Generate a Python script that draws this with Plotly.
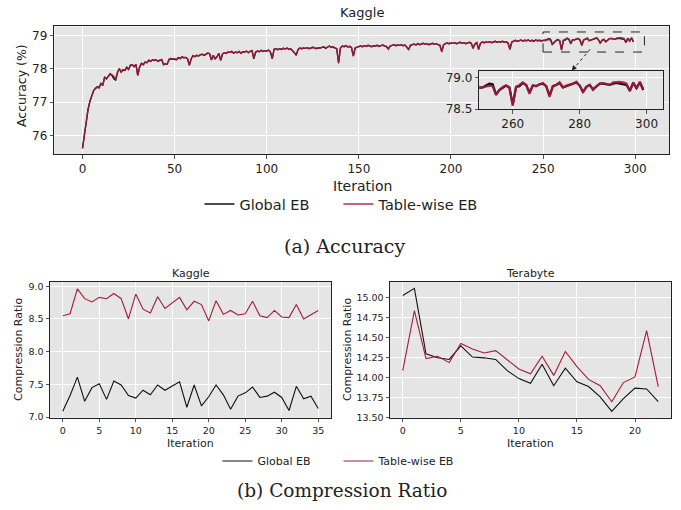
import plotly.graph_objects as go

# ---------------- data ----------------
acc_iter = list(range(300))
acc_tablewise = [
    75.62, 76.05, 76.50, 76.78, 77.02, 77.20, 77.34, 77.40, 77.45, 77.42,
    77.56, 77.50, 77.76, 77.70, 77.78, 77.86, 77.82, 77.78, 77.68, 77.90,
    78.01, 77.90, 77.98, 77.96, 78.05, 77.98, 78.11, 78.12, 78.06, 78.14,
    77.80, 78.05, 78.16, 78.12, 78.20, 78.18, 78.26, 78.22, 78.27, 78.25,
    78.27, 78.22, 78.26, 78.28, 78.13, 78.15, 78.14, 78.28, 78.31, 78.29,
    78.30, 78.27, 78.33, 78.30, 78.36, 78.33, 78.34, 78.30, 78.11, 78.30,
    78.39, 78.36, 78.40, 78.38, 78.42, 78.44, 78.40, 78.44, 78.47, 78.45,
    78.27, 78.40, 78.30, 78.36, 78.46, 78.25, 78.44, 78.48, 78.46, 78.50,
    78.49, 78.52, 78.47, 78.50, 78.48, 78.52, 78.46, 78.51, 78.50, 78.53,
    78.48, 78.52, 78.54, 78.31, 78.50, 78.53, 78.51, 78.55, 78.52, 78.54,
    78.53, 78.56, 78.50, 78.31, 78.58, 78.60, 78.57, 78.60, 78.58, 78.61,
    78.59, 78.62, 78.58, 78.60, 78.55, 78.50, 78.43, 78.58, 78.62, 78.60,
    78.62, 78.61, 78.63, 78.60, 78.62, 78.64, 78.62, 78.61, 78.63, 78.62,
    78.64, 78.66, 78.62, 78.65, 78.68, 78.64, 78.66, 78.62, 78.60, 78.16,
    78.62, 78.68, 78.66, 78.69, 78.65, 78.67, 78.64, 78.37, 78.62, 78.65,
    78.67, 78.68, 78.66, 78.69, 78.67, 78.70, 78.68, 78.66, 78.69, 78.68,
    78.70, 78.67, 78.69, 78.71, 78.68, 78.66, 78.58, 78.68, 78.70, 78.72,
    78.69, 78.71, 78.70, 78.72, 78.69, 78.71, 78.66, 78.56, 78.70, 78.72,
    78.74, 78.71, 78.75, 78.72, 78.74, 78.76, 78.73, 78.75, 78.72, 78.74,
    78.76, 78.73, 78.75, 78.72, 78.70, 78.50, 78.72, 78.75, 78.77, 78.75,
    78.77, 78.76, 78.78, 78.75, 78.77, 78.79, 78.76, 78.78, 78.75, 78.77,
    78.79, 78.76, 78.60, 78.74, 78.78, 78.57, 78.76, 78.80, 78.78, 78.80,
    78.79, 78.81, 78.78, 78.80, 78.82, 78.79, 78.81, 78.80, 78.82, 78.79,
    78.81, 78.76, 78.57, 78.80, 78.83, 78.85, 78.82, 78.84, 78.86, 78.83,
    78.85, 78.84, 78.86, 78.83, 78.85, 78.82, 78.86, 78.84, 78.85, 78.83,
    78.85, 78.84, 78.86, 78.87, 78.86, 78.72, 78.80, 78.85, 78.87, 78.84,
    78.55, 78.85, 78.88, 78.92, 78.88, 78.74, 78.87, 78.86, 78.89, 78.91,
    78.86, 78.69, 78.86, 78.88, 78.92, 78.84, 78.87, 78.88, 78.90, 78.93,
    78.87, 78.76, 78.85, 78.88, 78.80, 78.86, 78.90, 78.91, 78.89, 78.88,
    78.92, 78.93, 78.93, 78.92, 78.90, 78.78, 78.92, 78.83, 78.93, 78.82,
]
acc_global = [
    75.62, 76.05, 76.50, 76.78, 77.02, 77.20, 77.34, 77.42, 77.46, 77.44,
    77.56, 77.50, 77.74, 77.70, 77.78, 77.84, 77.80, 77.70, 77.66, 77.88,
    78.00, 77.90, 77.96, 77.95, 78.04, 77.98, 78.10, 78.12, 78.06, 78.13,
    77.80, 78.05, 78.16, 78.12, 78.20, 78.18, 78.25, 78.22, 78.27, 78.25,
    78.27, 78.22, 78.26, 78.27, 78.12, 78.15, 78.14, 78.28, 78.30, 78.29,
    78.30, 78.27, 78.33, 78.30, 78.35, 78.33, 78.34, 78.30, 78.10, 78.30,
    78.39, 78.36, 78.40, 78.38, 78.42, 78.43, 78.40, 78.44, 78.47, 78.45,
    78.26, 78.40, 78.30, 78.36, 78.46, 78.25, 78.44, 78.48, 78.46, 78.50,
    78.49, 78.52, 78.47, 78.50, 78.48, 78.52, 78.46, 78.51, 78.50, 78.53,
    78.48, 78.52, 78.54, 78.30, 78.50, 78.53, 78.51, 78.55, 78.52, 78.54,
    78.53, 78.56, 78.50, 78.30, 78.58, 78.60, 78.57, 78.60, 78.58, 78.61,
    78.59, 78.62, 78.58, 78.60, 78.55, 78.48, 78.40, 78.57, 78.62, 78.60,
    78.62, 78.61, 78.63, 78.60, 78.62, 78.64, 78.62, 78.60, 78.63, 78.62,
    78.64, 78.65, 78.61, 78.65, 78.68, 78.64, 78.66, 78.62, 78.60, 78.18,
    78.62, 78.68, 78.66, 78.69, 78.65, 78.67, 78.63, 78.39, 78.62, 78.65,
    78.67, 78.68, 78.66, 78.69, 78.67, 78.70, 78.68, 78.66, 78.69, 78.68,
    78.70, 78.67, 78.69, 78.71, 78.68, 78.66, 78.60, 78.68, 78.70, 78.72,
    78.69, 78.71, 78.70, 78.72, 78.69, 78.71, 78.64, 78.58, 78.70, 78.72,
    78.74, 78.71, 78.75, 78.72, 78.74, 78.76, 78.73, 78.75, 78.72, 78.74,
    78.76, 78.73, 78.75, 78.72, 78.70, 78.52, 78.72, 78.75, 78.77, 78.75,
    78.77, 78.76, 78.78, 78.75, 78.77, 78.79, 78.76, 78.78, 78.75, 78.77,
    78.79, 78.76, 78.62, 78.74, 78.78, 78.59, 78.76, 78.80, 78.78, 78.80,
    78.79, 78.81, 78.78, 78.80, 78.82, 78.79, 78.81, 78.80, 78.82, 78.79,
    78.81, 78.77, 78.59, 78.80, 78.83, 78.85, 78.82, 78.84, 78.86, 78.83,
    78.85, 78.84, 78.86, 78.83, 78.85, 78.82, 78.86, 78.84, 78.85, 78.83,
    78.84, 78.84, 78.87, 78.90, 78.89, 78.73, 78.80, 78.84, 78.87, 78.84,
    78.57, 78.85, 78.86, 78.91, 78.88, 78.76, 78.87, 78.86, 78.89, 78.90,
    78.86, 78.71, 78.86, 78.88, 78.91, 78.84, 78.86, 78.88, 78.89, 78.92,
    78.87, 78.77, 78.85, 78.88, 78.81, 78.86, 78.90, 78.90, 78.89, 78.88,
    78.90, 78.91, 78.90, 78.89, 78.88, 78.79, 78.91, 78.83, 78.92, 78.80,
]

kaggle_iter = list(range(36))
kaggle_global = [
    7.09, 7.33, 7.61, 7.24, 7.45, 7.51, 7.27, 7.55, 7.49, 7.33,
    7.29, 7.41, 7.34, 7.49, 7.41, 7.47, 7.54, 7.15, 7.49, 7.17,
    7.31, 7.49, 7.34, 7.12, 7.32, 7.37, 7.46, 7.30, 7.32, 7.38,
    7.30, 7.10, 7.47, 7.28, 7.32, 7.13,
]
kaggle_tablewise = [
    8.55, 8.58, 8.96, 8.81, 8.76, 8.83, 8.81, 8.89, 8.81, 8.50,
    8.88, 8.65, 8.59, 8.84, 8.66, 8.75, 8.83, 8.64, 8.77, 8.72,
    8.47, 8.78, 8.57, 8.63, 8.56, 8.58, 8.77, 8.55, 8.52, 8.63,
    8.53, 8.52, 8.72, 8.50, 8.57, 8.63,
]

tera_iter = list(range(23))
tera_global = [
    15.03, 15.12, 14.30, 14.25, 14.23, 14.40, 14.26, 14.25, 14.23, 14.09,
    13.99, 13.93, 14.17, 13.90, 14.12, 13.95, 13.89, 13.76, 13.58, 13.74,
    13.87, 13.86, 13.70,
]
tera_tablewise = [
    14.09, 14.84, 14.24, 14.27, 14.19, 14.43, 14.36, 14.31, 14.34, 14.23,
    14.11, 14.05, 14.27, 14.03, 14.33, 14.14, 13.98, 13.90, 13.70, 13.94,
    14.01, 14.59, 13.89,
]

series_names = ["Global EB", "Table-wise EB"]
acc_xticks = [0, 50, 100, 150, 200, 250, 300]
acc_yticks = [76, 77, 78, 79]
inset_xticks = [260, 280, 300]
inset_yticks = [78.5, 79.0]
kaggle_xticks = [0, 5, 10, 15, 20, 25, 30, 35]
kaggle_yticks = [7.0, 7.5, 8.0, 8.5, 9.0]
tera_xticks = [0, 5, 10, 15, 20]
tera_yticks = [13.50, 13.75, 14.00, 14.25, 14.50, 14.75, 15.00]
inset_xlim = [250, 305]
inset_ylim = [78.5, 79.1]

# ---------------- style ----------------
BLACK = "#111111"
RED = "#A3193F"
FONT = "DejaVu Sans"
SERIF = "DejaVu Serif"
W, H = 681, 510

fig = go.Figure()

# main accuracy
fig.add_trace(go.Scatter(x=acc_iter, y=acc_global, mode="lines", name=series_names[0],
                         line=dict(color=BLACK, width=1.4), xaxis="x", yaxis="y", legend="legend"))
fig.add_trace(go.Scatter(x=acc_iter, y=acc_tablewise, mode="lines", name=series_names[1],
                         line=dict(color=RED, width=1.4), opacity=0.9, xaxis="x", yaxis="y", legend="legend"))
# inset
fig.add_trace(go.Scatter(x=acc_iter, y=acc_global, mode="lines", showlegend=False,
                         line=dict(color=BLACK, width=2.2), xaxis="x2", yaxis="y2"))
fig.add_trace(go.Scatter(x=acc_iter, y=acc_tablewise, mode="lines", showlegend=False,
                         line=dict(color=RED, width=2.2), opacity=0.9, xaxis="x2", yaxis="y2"))
# kaggle compression
fig.add_trace(go.Scatter(x=kaggle_iter, y=kaggle_global, mode="lines", name=series_names[0],
                         line=dict(color=BLACK, width=1.1), xaxis="x3", yaxis="y3", legend="legend2"))
fig.add_trace(go.Scatter(x=kaggle_iter, y=kaggle_tablewise, mode="lines", name=series_names[1],
                         line=dict(color=RED, width=1.1), xaxis="x3", yaxis="y3", legend="legend2"))
# terabyte compression
fig.add_trace(go.Scatter(x=tera_iter, y=tera_global, mode="lines", showlegend=False,
                         line=dict(color=BLACK, width=1.1), xaxis="x4", yaxis="y4"))
fig.add_trace(go.Scatter(x=tera_iter, y=tera_tablewise, mode="lines", showlegend=False,
                         line=dict(color=RED, width=1.1), xaxis="x4", yaxis="y4"))


def ax(domain, rng, ticks, size, fmt=None, anchor=None):
    d = dict(domain=domain, range=rng, tickvals=ticks, showgrid=True, gridcolor="white",
             gridwidth=1, zeroline=False, showline=True, mirror=True, linecolor="#222222",
             linewidth=1, ticks="outside", ticklen=3.5, tickwidth=1, tickcolor="#555555",
             automargin=False,
             tickfont=dict(family=FONT, size=size, color="#222222"))
    if fmt:
        d["tickformat"] = fmt
    if anchor:
        d["anchor"] = anchor
    return d


fig.update_layout(
    width=W, height=H,
    margin=dict(l=0, r=0, t=0, b=0, autoexpand=False),
    paper_bgcolor="white", plot_bgcolor="#E5E5E5",
    font=dict(family=FONT, color="#222222"),
    xaxis=ax([54.3 / W, 669.3 / W], [-15.3, 318.5], acc_xticks, 12, anchor="y"),
    yaxis=ax([1 - 154 / H, 1 - 26.3 / H], [75.45, 79.27], acc_yticks, 12, anchor="x"),
    xaxis2=ax([479.3 / W, 663.3 / W], inset_xlim, inset_xticks, 12, anchor="y2"),
    yaxis2=ax([1 - 109 / H, 1 - 71 / H], inset_ylim, inset_yticks, 12, fmt=".1f", anchor="x2"),
    xaxis3=ax([50 / W, 331 / W], [-1.75, 36.75], kaggle_xticks, 9.5, anchor="y3"),
    yaxis3=ax([1 - 417.7 / H, 1 - 282 / H], [6.99, 9.065], kaggle_yticks, 9.5, fmt=".1f", anchor="x3"),
    xaxis4=ax([390 / W, 671 / W], [-1.1, 23.1], tera_xticks, 9.5, anchor="y4"),
    yaxis4=ax([1 - 417.7 / H, 1 - 282 / H], [13.5, 15.2], tera_yticks, 9.5, fmt=".2f", anchor="x4"),
    legend=dict(orientation="h", x=0.497, xanchor="center", y=1 - 204 / H, yanchor="middle",
                font=dict(family=FONT, size=14.5, color="#222222"), bgcolor="rgba(0,0,0,0)",
                itemwidth=30, entrywidth=94),
    legend2=dict(orientation="h", x=0.497, xanchor="center", y=1 - 461 / H, yanchor="middle",
                 font=dict(family=FONT, size=11, color="#222222"), bgcolor="rgba(0,0,0,0)",
                 itemwidth=30, entrywidth=76),
    showlegend=True,
)

# zoom rectangle and connector
fig.add_shape(type="rect", xref="x", yref="y", x0=inset_xlim[0], x1=inset_xlim[1],
              y0=inset_ylim[0], y1=inset_ylim[1], line=dict(color="#222222", width=1, dash="dash"))
fig.add_shape(type="line", xref="x", yref="y", x0=275.5, y0=78.58, x1=266.5, y1=78.0,
              line=dict(color="#222222", width=1, dash="dot"))
fig.add_annotation(xref="x", yref="y", axref="x", ayref="y", x=265.5, y=77.95,
                   ax=267.5, ay=78.07, text="", showarrow=True, arrowhead=2,
                   arrowsize=1, arrowwidth=1, arrowcolor="#222222")

ann = [
    dict(text="Kaggle", x=362 / W, y=1 - 12 / H, size=13, fam=FONT),
    dict(text="Iteration", x=362 / W, y=1 - 186 / H, size=14, fam=FONT),
    dict(text="Accuracy (%)", x=21 / W, y=1 - 86 / H, size=12.5, fam=FONT, rot=-90),
    dict(text="(a) Accuracy", x=344 / W, y=1 - 246 / H, size=19, fam=SERIF),
    dict(text="Kaggle", x=190.5 / W, y=1 - 273 / H, size=11, fam=FONT),
    dict(text="Terabyte", x=530.5 / W, y=1 - 273 / H, size=11, fam=FONT),
    dict(text="Iteration", x=190.5 / W, y=1 - 443 / H, size=11, fam=FONT),
    dict(text="Iteration", x=530.5 / W, y=1 - 443 / H, size=11, fam=FONT),
    dict(text="Compression Ratio", x=18 / W, y=1 - 350 / H, size=11, fam=FONT, rot=-90),
    dict(text="Compression Ratio", x=347 / W, y=1 - 350 / H, size=11, fam=FONT, rot=-90),
    dict(text="(b) Compression Ratio", x=342 / W, y=1 - 490 / H, size=18.5, fam=SERIF),
]
for a in ann:
    fig.add_annotation(xref="paper", yref="paper", x=a["x"], y=a["y"], text=a["text"],
                       showarrow=False, xanchor="center", yanchor="middle",
                       textangle=a.get("rot", 0),
                       font=dict(family=a["fam"], size=a["size"], color="#222222"))

fig.write_html("out.html", config={"displayModeBar": False},
               post_script="document.body.style.margin='0px';document.body.style.overflow='hidden';")
